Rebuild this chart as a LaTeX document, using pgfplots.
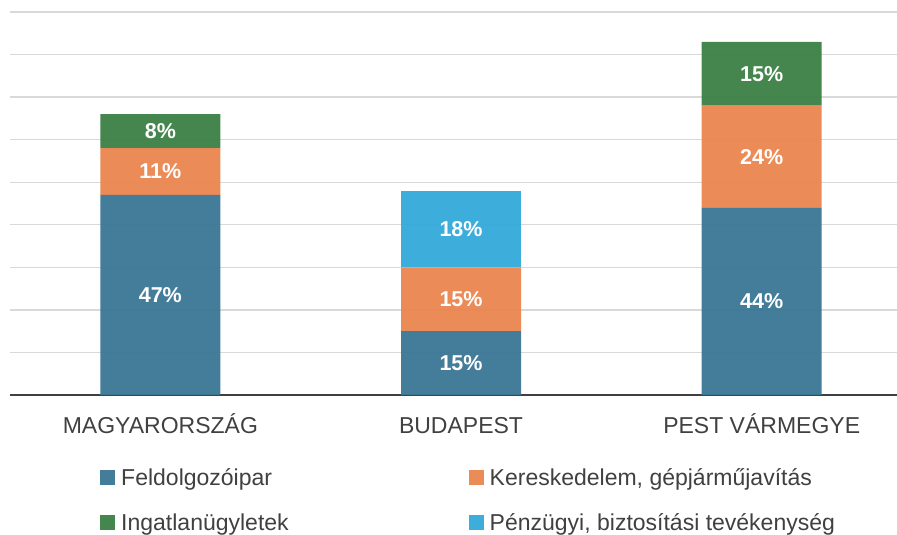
\documentclass[border=0pt]{standalone}
\usepackage{fontspec}
\setmainfont{Liberation Sans}
\usepackage{pgfplots}
\pgfplotsset{compat=1.18}
\definecolor{cF}{HTML}{3A7695}
\definecolor{cK}{HTML}{EA854F}
\definecolor{cI}{HTML}{3B8045}
\definecolor{cP}{HTML}{33AADA}
\definecolor{txt}{HTML}{404040}
\definecolor{gridc}{HTML}{D9D9D9}
\begin{document}
\begin{tikzpicture}[x=1pt,y=1pt]
\path[use as bounding box] (-10,-140) rectangle (887,395);
\begin{axis}[
  at={(0,0)}, anchor=south west,
  scale only axis, width=887pt, height=383pt,
  xmin=-0.5, xmax=2.45, ymin=0, ymax=90,
  ybar stacked, bar width=120pt,
  xtick={0,1,2},
  xticklabels={MAGYARORSZÁG,BUDAPEST,PEST VÁRMEGYE},
  ytick={10,20,...,90}, yticklabels={},
  ymajorgrids, grid style={draw=gridc, line width=1.4pt},
  axis line style={draw=none},
  major tick length=0pt,
  xticklabel style={font=\fontsize{23}{27}\selectfont, text=txt, anchor=base, yshift=-38pt},
  point meta=explicit symbolic,
  nodes near coords,
  every node near coord/.append style={font=\bfseries\fontsize{21.5}{25}\selectfont, text=white, anchor=center},
  legend columns=2,
  legend image code/.code={\fill[#1,draw=none] (0pt,-7.5pt) rectangle (15pt,7.5pt);},
  legend style={draw=none, fill=none, at={(rel axis cs:0.1015,0)}, anchor=north west, yshift=-71pt,
    font=\fontsize{23}{27}\selectfont, text=txt, inner sep=0pt, row sep=23pt,
    /tikz/every odd column/.append style={column sep=4pt},
    /tikz/column 2/.style={column sep=178pt}},
  legend cell align=left,
]
\addplot+[fill=cF, draw=none, fill opacity=0.95, text opacity=1] coordinates {(0,47) [47\%] (1,15) [15\%] (2,44) [44\%]};
\addplot+[fill=cK, draw=none, fill opacity=0.95, text opacity=1] coordinates {(0,11) [11\%] (1,15) [15\%] (2,24) [24\%]};
\addplot+[fill=cI, draw=none, fill opacity=0.95, text opacity=1] coordinates {(0,8) [8\%] (1,0) [] (2,15) [15\%]};
\addplot+[fill=cP, draw=none, fill opacity=0.95, text opacity=1] coordinates {(0,0) [] (1,18) [18\%] (2,0) []};
\legend{Feldolgozóipar, {Kereskedelem, gépjárműjavítás}, Ingatlanügyletek, {Pénzügyi, biztosítási tevékenység}}
\draw[txt, line width=3pt] (rel axis cs:0,0) -- (rel axis cs:1,0);
\end{axis}
\end{tikzpicture}
\end{document}
